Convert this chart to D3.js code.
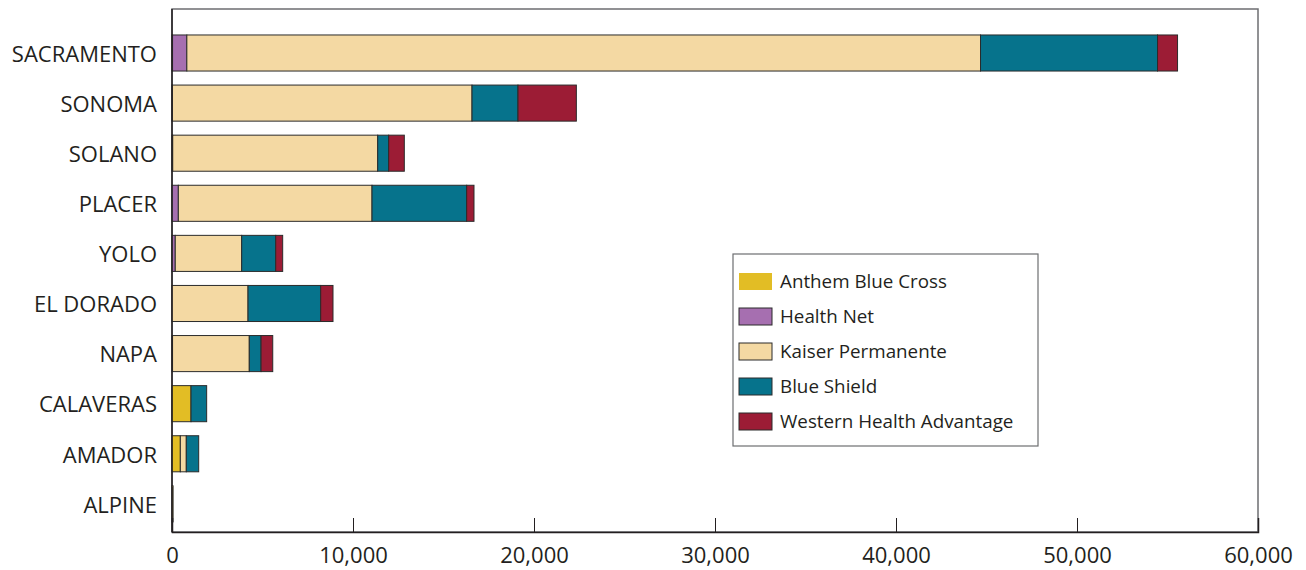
<!DOCTYPE html>
<head>
    <meta charset="utf-8">
    <script src="https://cdn.jsdelivr.net/npm/d3@7"></script>
    <style>
        body { margin: 0; background: #fff; }
        svg { display: block; }
        .cat { font-family: "Open Sans", sans-serif; font-size: 22px; fill: #231f20; }
        .tick text { font-family: "Open Sans", sans-serif; font-size: 22px; fill: #231f20; }
        .leg { font-family: "Open Sans", sans-serif; font-size: 18.8px; fill: #231f20; }
    </style>
</head>
<body>
<script>
    // counties, top to bottom
    var counties = ["SACRAMENTO", "SONOMA", "SOLANO", "PLACER", "YOLO", "EL DORADO", "NAPA", "CALAVERAS", "AMADOR", "ALPINE"];
    var plans = ["Anthem Blue Cross", "Health Net", "Kaiser Permanente", "Blue Shield", "Western Health Advantage"];
    var anthem  = [30, 20, 0, 0, 0, 0, 30, 1050, 460, 60];
    var healthNet = [790, 0, 40, 350, 180, 0, 0, 0, 0, 0];
    var kaiser  = [43850, 16555, 11325, 10700, 3670, 4200, 4240, 0, 330, 0];
    var blueShield = [9780, 2540, 605, 5230, 1880, 4015, 650, 865, 685, 0];
    var wha     = [1105, 3225, 865, 405, 385, 680, 646, 0, 0, 0];
    var xTicks = [0, 10000, 20000, 30000, 40000, 50000, 60000];
    var colors = ["#e2bd25", "#a66fb0", "#f4d9a3", "#06738c", "#9c1c35"];

    var rows = counties.map(function (c, i) {
        return { county: c, a: anthem[i], h: healthNet[i], k: kaiser[i], b: blueShield[i], w: wha[i] };
    });
    var keys = ["a", "h", "k", "b", "w"];
    var stacked = d3.stack().keys(keys)(rows);

    var W = 1306, H = 570;
    var mLeft = 172, mRight = 1258, mTop = 9, mBottom = 532;

    var svg = d3.select("body").append("svg").attr("width", W).attr("height", H);

    var x = d3.scaleLinear().domain([0, 60000]).range([mLeft, mRight]);
    var y = d3.scaleBand().domain(counties).range([mTop, mBottom])
        .paddingInner(0.28).paddingOuter(0.36).align(0.72);

    // frame
    svg.append("rect").attr("x", mLeft).attr("y", mTop)
        .attr("width", mRight - mLeft).attr("height", mBottom - mTop)
        .attr("fill", "none").attr("stroke", "#6d6e71").attr("stroke-width", 1.5);

    svg.append("g").selectAll("g").data(stacked).enter().append("g")
        .attr("fill", function (d, i) { return colors[i]; })
        .selectAll("rect").data(function (d) { return d; }).enter().append("rect")
        .attr("x", function (d) { return x(d[0]); })
        .attr("y", function (d) { return y(d.data.county); })
        .attr("width", function (d) { return x(d[1]) - x(d[0]); })
        .attr("height", y.bandwidth())
        .attr("stroke", function (d) { return d[1] - d[0] > 0 ? "#2b2b2b" : "none"; })
        .attr("stroke-width", 1);

    // left axis line
    svg.append("line").attr("x1", mLeft).attr("x2", mLeft).attr("y1", mTop).attr("y2", mBottom)
        .attr("stroke", "#231f20").attr("stroke-width", 1.5);

    var axis = d3.axisBottom(x).tickValues(xTicks).tickSize(-14).tickPadding(15)
        .tickFormat(d3.format(","));
    var gx = svg.append("g").attr("transform", "translate(0," + mBottom + ")").call(axis);
    gx.select(".domain").attr("stroke", "#231f20").attr("stroke-width", 1.5);
    gx.selectAll(".tick line").attr("stroke", "#231f20");

    svg.selectAll(".cat").data(counties).enter().append("text")
        .attr("class", "cat")
        .attr("x", mLeft - 15)
        .attr("y", function (d) { return y(d) + y.bandwidth() / 2; })
        .attr("dy", "0.4em")
        .attr("text-anchor", "end")
        .text(function (d) { return d; });

    // legend
    var lg = svg.append("g").attr("transform", "translate(733,254)");
    lg.append("rect").attr("width", 305).attr("height", 192)
        .attr("fill", "#fff").attr("stroke", "#6d6e71").attr("stroke-width", 1.2);
    var item = lg.selectAll(".item").data(plans).enter().append("g")
        .attr("transform", function (d, i) { return "translate(6," + (19 + i * 35) + ")"; });
    item.append("rect").attr("width", 33).attr("height", 17)
        .attr("fill", function (d, i) { return colors[i]; })
        .attr("stroke", function (d, i) { return i === 0 ? "none" : "#2b2b2b"; });
    item.append("text").attr("class", "leg").attr("x", 41).attr("y", 8.5).attr("dy", "0.36em")
        .text(function (d) { return d; });
</script>
</body>
